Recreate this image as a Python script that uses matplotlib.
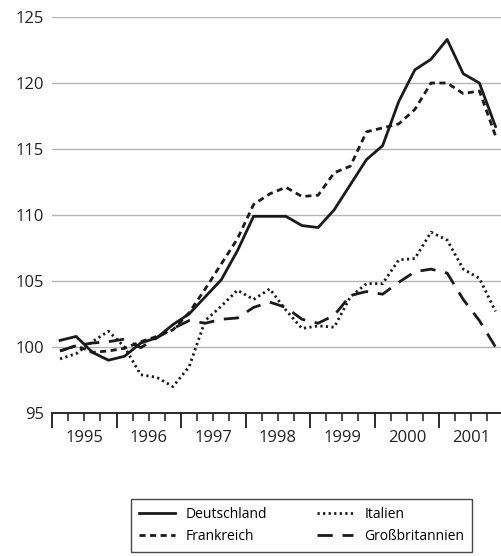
import numpy as np
import matplotlib.pyplot as plt
import matplotlib.transforms as mtransforms

plt.rcParams['font.family'] = ['Open Sans', 'DejaVu Sans']

# Quartalswerte 1995 Q1 - 2001 Q4
quartale = np.arange(1995, 2002, 0.25) + 0.125

deutschland = [100.5, 100.8, 99.6, 99.0, 99.3, 100.3, 100.7, 101.7,
               102.5, 103.8, 105.1, 107.3, 109.9, 109.9, 109.9, 109.2,
               109.05, 110.4, 112.3, 114.2, 115.25, 118.6, 121.0, 121.8,
               123.3, 120.7, 120.0, 116.7]
frankreich = [99.7, 100.1, 99.6, 99.7, 99.9, 100.4, 100.8, 101.3,
              102.6, 104.4, 106.3, 108.2, 110.8, 111.6, 112.1, 111.4,
              111.5, 113.2, 113.7, 116.3, 116.6, 116.9, 118.0, 120.0,
              120.0, 119.2, 119.4, 116.0]
italien = [99.1, 99.5, 100.4, 101.2, 100.0, 97.9, 97.7, 97.0,
           98.5, 102.0, 103.1, 104.3, 103.6, 104.4, 102.8, 101.4,
           101.6, 101.5, 103.8, 104.8, 104.8, 106.6, 106.7, 108.7,
           108.1, 105.9, 105.2, 102.7]
grossbritannien = [99.7, 100.1, 100.3, 100.4, 100.6, 99.95, 100.7, 101.4,
                   102.0, 101.8, 102.1, 102.2, 103.0, 103.4, 103.0, 102.1,
                   101.8, 102.4, 103.9, 104.2, 104.0, 104.9, 105.7, 105.9,
                   105.6, 103.6, 102.0, 100.0]
jahre = list(range(1995, 2002))

farbe = '#1a1a1a'

fig = plt.figure(figsize=(5.01, 5.56), dpi=100)
ax = fig.add_axes([52 / 501, 1 - 413 / 556, 449 / 501, 396 / 556])

for y in range(100, 126, 5):
    ax.axhline(y, color='#b5b5b5', lw=1.0, zorder=0)

ax.plot(quartale, deutschland, color=farbe, lw=2.0, label='Deutschland')
ax.plot(quartale, frankreich, color=farbe, lw=2.0, dashes=(2.2, 1.6), label='Frankreich')
ax.plot(quartale, italien, color=farbe, lw=2.0, dashes=(0.8, 1.2), label='Italien')
ax.plot(quartale, grossbritannien, color=farbe, lw=2.0, dashes=(5.5, 3.5), label='Großbritannien')

ax.set_xlim(1995, 2001.96)
ax.set_ylim(95, 125)
ax.set_yticks(range(95, 126, 5))
ax.tick_params(axis='y', length=0, labelsize=12, colors='#222222', pad=6)

ax.set_xticks(range(1995, 2002))
ax.set_xticks(np.arange(1995, 2002, 0.25), minor=True)
ax.set_xticklabels([])
ax.tick_params(axis='x', which='major', direction='out', length=11, width=1.3, color=farbe)
ax.tick_params(axis='x', which='minor', direction='out', length=6, width=1.1, color=farbe)

trans = mtransforms.blended_transform_factory(ax.transData, ax.transAxes)
for j in jahre:
    ax.text(j + 0.5, -0.062, str(j), transform=trans, ha='center', va='center',
            fontsize=12, color='#222222')

for s in ['left', 'right', 'top']:
    ax.spines[s].set_visible(False)
ax.spines['bottom'].set_color(farbe)
ax.spines['bottom'].set_linewidth(1.3)

leg = fig.legend(loc='upper left', bbox_to_anchor=(131 / 501, 1 - 499 / 556),
                 ncol=2, frameon=True, fancybox=False, fontsize=10,
                 handlelength=2.6, columnspacing=3.6, borderpad=0.55,
                 labelspacing=0.55, handletextpad=0.8, borderaxespad=0)
leg.get_frame().set_edgecolor(farbe)
leg.get_frame().set_linewidth(1.0)

fig.savefig('out.png', dpi=100)
